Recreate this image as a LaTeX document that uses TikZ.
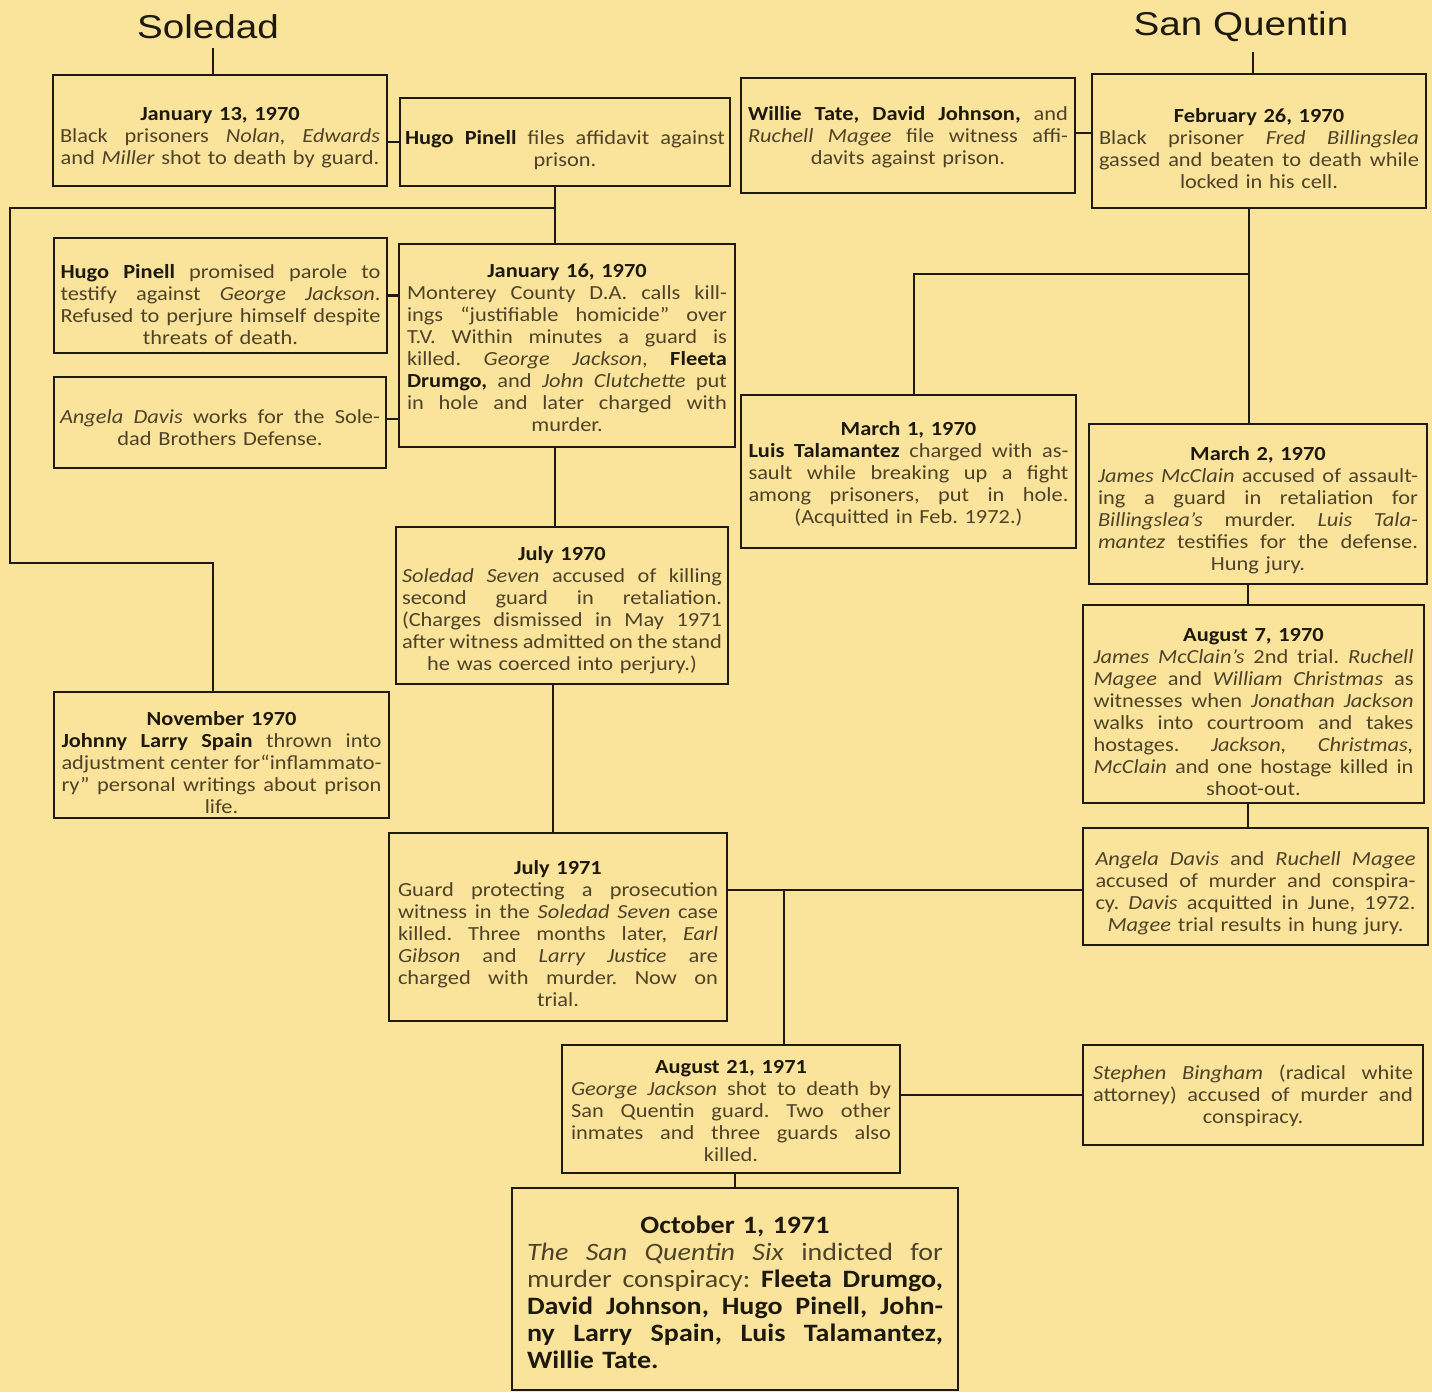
\documentclass[tikz,border=0pt]{standalone}
\usepackage{fontspec}
\usepackage{graphicx}
\setmainfont[FakeStretch=1.12]{Carlito}
\newfontfamily\headfont{Liberation Sans}
\definecolor{bg}{RGB}{250,228,155}
\definecolor{linec}{RGB}{30,26,16}
\definecolor{regc}{RGB}{78,66,40}
\definecolor{boldc}{RGB}{30,25,14}
\newcommand\jl[1]{\noindent\makebox[\hsize][s]{\frenchspacing\spaceskip=0pt\xspaceskip=0pt\relax #1}\par}
\newcommand\cl[1]{\noindent\makebox[\hsize][c]{\frenchspacing #1}\par}
\newcommand\lftl[1]{\noindent\makebox[\hsize][l]{\frenchspacing #1}\par}
\newcommand\nb[1]{{\color{boldc}\bfseries #1}}
\newcommand\dt[1]{\cl{\nb{#1}}}
\newcommand\dn[1]{\noindent\rule{0pt}{#1pt}}
\newcommand\bodyfont{\fontsize{20}{22}\selectfont\frenchspacing\spaceskip=0pt\xspaceskip=0pt\relax}
\newcommand\bigbodyfont{\fontsize{25}{27}\selectfont\frenchspacing\spaceskip=0pt\xspaceskip=0pt\relax}
\begin{document}
\begin{tikzpicture}[x=1pt,y=-1pt,
  box/.style={draw=linec, line width=2.7pt, inner sep=0pt,
    font=\bodyfont, text=regc, text width=320pt},
  conn/.style={draw=linec, line width=2.5pt},
  head/.style={font=\headfont\fontsize{33}{36}\selectfont, text=boldc, inner sep=0pt}]
\fill[bg] (0,0) rectangle (1432,1392);
\useasboundingbox (0,0) rectangle (1432,1392);

% titles
\node[head] (sol) at (208,27) {\scalebox{1.17}[1]{Soledad}};
\node[head] (sanq) at (1241,27) {\scalebox{1.17}[1]{San Quentin}};

% boxes
\node[box, minimum width=334pt, minimum height=111pt] (A) at (220,130.5) {%
\dn{27}%
\dt{January 13, 1970}
\jl{Black prisoners \textit{Nolan, Edwards}}
\cl{and \textit{Miller} shot to death by guard.}};

\node[box, minimum width=330pt, minimum height=88pt] (B) at (565,142) {%
\dn{30}%
\jl{\nb{Hugo Pinell} files affidavit against}
\cl{prison.}};

\node[box, minimum width=334pt, minimum height=115pt] (C) at (908,135.5) {%
\dn{18}%
\jl{\nb{Willie Tate, David Johnson,} and}
\jl{\textit{Ruchell Magee} file witness affi-}
\cl{davits against prison.}};

\node[box, minimum width=334pt, minimum height=134pt] (D) at (1259,141) {%
\dn{29}%
\dt{February 26, 1970}
\jl{Black prisoner \textit{Fred Billingslea}}
\jl{gassed and beaten to death while}
\cl{locked in his cell.}};

\node[box, minimum width=333pt, minimum height=115pt] (E) at (220.5,295.5) {%
\dn{32}%
\jl{\nb{Hugo Pinell} promised parole to}
\jl{testify against \textit{George Jackson}.}
\jl{Refused to perjure himself despite}
\cl{threats of death.}};

\node[box, minimum width=332pt, minimum height=91pt] (F) at (220,422.5) {%
\dn{25}%
\jl{\textit{Angela Davis} works for the Sole-}
\cl{dad Brothers Defense.}};

\node[box, minimum width=336pt, minimum height=203pt] (G) at (567,345.5) {%
\dn{19}%
\dt{January 16, 1970}
\jl{Monterey County D.A. calls kill-}
\jl{ings “justifiable homicide” over}
\jl{T.V. Within minutes a guard is}
\jl{killed. \textit{George Jackson}, \nb{Fleeta}}
\jl{\nb{Drumgo,} and \textit{John Clutchette} put}
\jl{in hole and later charged with}
\cl{murder.}};

\node[box, minimum width=335pt, minimum height=153pt] (H) at (908.5,471.5) {%
\dn{19}%
\dt{March 1, 1970}
\jl{\nb{Luis Talamantez} charged with as-}
\jl{sault while breaking up a fight}
\jl{among prisoners, put in hole.}
\cl{(Acquitted in Feb. 1972.)}};

\node[box, minimum width=338pt, minimum height=160pt] (I) at (1258,504) {%
\dn{27}%
\dt{March 2, 1970}
\jl{\textit{James McClain} accused of assault-}
\jl{ing a guard in retaliation for}
\jl{\textit{Billingslea’s} murder. \textit{Luis Tala-}}
\jl{\textit{mantez} testifies for the defense.}
\cl{Hung jury.}};

\node[box, minimum width=332pt, minimum height=157pt] (J) at (562,605.5) {%
\dn{23}%
\dt{July 1970}
\jl{\textit{Soledad Seven} accused of killing}
\jl{second guard in retaliation.}
\jl{(Charges dismissed in May 1971}
\jl{after witness admitted on the stand}
\cl{he was coerced into perjury.)}};

\node[box, minimum width=335pt, minimum height=126pt] (K) at (221.5,755) {%
\dn{29}%
\dt{November 1970}
\jl{\nb{Johnny Larry Spain} thrown into}
\jl{adjustment center for“inflammato-}
\jl{ry” personal writings about prison}
\cl{life.}};

\node[box, minimum width=341pt, minimum height=198pt] (L) at (1253.5,704) {%
\dn{29}%
\dt{August 7, 1970}
\jl{\textit{James McClain’s} 2nd trial. \textit{Ruchell}}
\jl{\textit{Magee} and \textit{William Christmas} as}
\jl{witnesses when \textit{Jonathan Jackson}}
\jl{walks into courtroom and takes}
\jl{hostages. \textit{Jackson, Christmas,}}
\jl{\textit{McClain} and one hostage killed in}
\cl{shoot-out.}};

\node[box, minimum width=345pt, minimum height=117pt] (M) at (1255.5,886.5) {%
\dn{27}%
\jl{\textit{Angela Davis} and \textit{Ruchell Magee}}
\jl{accused of murder and conspira-}
\jl{cy. \textit{Davis} acquitted in June, 1972.}
\cl{\textit{Magee} trial results in hung jury.}};

\node[box, minimum width=338pt, minimum height=188pt] (N) at (558,927) {%
\dn{27}%
\dt{July 1971}
\jl{Guard protecting a prosecution}
\jl{witness in the \textit{Soledad Seven} case}
\jl{killed. Three months later, \textit{Earl}}
\jl{\textit{Gibson} and \textit{Larry Justice} are}
\jl{charged with murder. Now on}
\cl{trial.}};

\node[box, minimum width=338pt, minimum height=128pt] (O) at (731,1109) {%
\dn{17}%
\dt{August 21, 1971}
\jl{\textit{George Jackson} shot to death by}
\jl{San Quentin guard. Two other}
\jl{inmates and three guards also}
\cl{killed.}};

\node[box, minimum width=340pt, minimum height=100pt] (P) at (1253,1095) {%
\dn{17}%
\jl{\textit{Stephen Bingham} (radical white}
\jl{attorney) accused of murder and}
\cl{conspiracy.}};

\node[box, minimum width=446pt, minimum height=202pt, text width=416pt, font=\bigbodyfont] (Q) at (735,1289) {%
\dn{24}%
\dt{October 1, 1971}
\jl{\textit{The San Quentin Six} indicted for}
\jl{murder conspiracy: \nb{Fleeta Drumgo,}}
\jl{\nb{David Johnson, Hugo Pinell, John-}}
\jl{\nb{ny Larry Spain, Luis Talamantez,}}
\lftl{\nb{Willie Tate.}}};

% connectors
\coordinate (sl) at (213,48);
\draw[conn] (sl) -- (sl |- A.north);
\coordinate (sq) at (1253,52);
\draw[conn] (sq) -- (sq |- D.north);
\draw[conn] (B.west) -- (B.west -| A.east);
\coordinate (cd) at (1084,133);
\draw[conn] (C.east |- cd) -- (D.west |- cd);

\coordinate (j1) at (555,208);
\coordinate (l1) at (10,208);
\coordinate (l2) at (10,563);
\coordinate (l3) at (213,563);
\draw[conn] (j1 |- B.south) -- (j1 |- G.north);
\draw[conn] (j1) -- (l1) -- (l2) -- (l3) -- (l3 |- K.north);
\draw[conn] (E.east) -- (E.east -| G.west);
\coordinate (fg) at (393,419);
\draw[conn] (F.east |- fg) -- (G.west |- fg);
\draw[conn] (j1 |- G.south) -- (j1 |- J.north);
\coordinate (j5) at (553,700);
\draw[conn] (j5 |- J.south) -- (j5 |- N.north);

\coordinate (j2) at (1249,274);
\coordinate (j3) at (914,274);
\draw[conn] (j2 |- D.south) -- (j2 |- I.north);
\draw[conn] (j2) -- (j3) -- (j3 |- H.north);
\coordinate (j6) at (1248,700);
\draw[conn] (j6 |- I.south) -- (j6 |- L.north);
\draw[conn] (j6 |- L.south) -- (j6 |- M.north);

\coordinate (j4) at (784,890);
\draw[conn] (N.east |- j4) -- (M.west |- j4);
\draw[conn] (j4) -- (j4 |- O.north);
\draw[conn] (P.west) -- (P.west -| O.east);
\draw[conn] (Q.north) -- (Q.north |- O.south);
\end{tikzpicture}
\end{document}
